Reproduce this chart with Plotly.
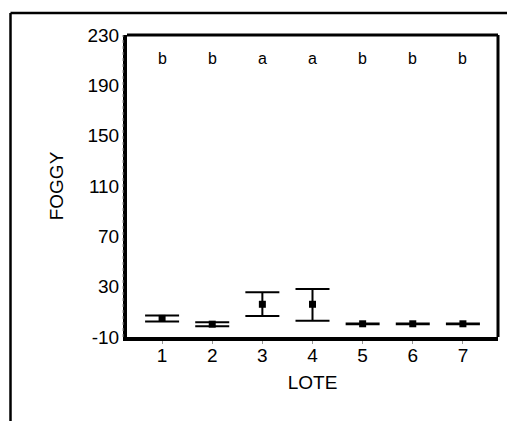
import plotly.graph_objects as go

lote = [1, 2, 3, 4, 5, 6, 7]
means = [4.8, 0.2, 16.0, 16.0, 0.5, 0.5, 0.5]
err_up = [2.3, 1.6, 9.5, 12.1, 0.3, 0.3, 0.3]
err_down = [2.4, 1.6, 9.4, 13.1, 0.3, 0.3, 0.3]
letters = ["b", "b", "a", "a", "b", "b", "b"]
letter_y = 211
y_ticks = [-10, 30, 70, 110, 150, 190, 230]

W, H = 507, 421
ML, MR, MT, MB = 127, 9, 35, 84
pw, ph = W - ML - MR, H - MT - MB

def px_x(x):
    return (x - ML) / pw

def px_y(y):
    return (H - MB - y) / ph

fig = go.Figure()
fig.add_trace(go.Scatter(
    x=lote, y=means, mode="markers",
    marker=dict(symbol="square", size=7, color="black"),
    error_y=dict(type="data", symmetric=False, array=err_up, arrayminus=err_down,
                 color="black", thickness=2, width=17),
    showlegend=False, hoverinfo="skip",
))

for xv, t in zip(lote, letters):
    fig.add_annotation(x=xv, y=letter_y, text=t, showarrow=False,
                       font=dict(family="Arial, Liberation Sans", size=16, color="black"))

shapes = [
    dict(type="line", xref="paper", yref="paper", x0=0, x1=1, y0=1, y1=1,
         line=dict(color="black", width=3)),
    dict(type="line", xref="paper", yref="paper", x0=1, x1=1, y0=0, y1=1,
         line=dict(color="black", width=3)),
    dict(type="line", xref="paper", yref="paper", x0=px_x(123), x1=px_x(123), y0=0, y1=1,
         line=dict(color="#888", width=1, dash="dot")),
    dict(type="line", xref="paper", yref="paper", x0=px_x(10.5), x1=px_x(10.5), y0=px_y(13), y1=px_y(440),
         line=dict(color="black", width=2.5)),
    dict(type="line", xref="paper", yref="paper", x0=px_x(10.5), x1=px_x(520), y0=px_y(13), y1=px_y(13),
         line=dict(color="black", width=2.5)),
]

fig.update_layout(
    width=W, height=H,
    margin=dict(l=ML, r=MR, t=MT, b=MB),
    plot_bgcolor="white", paper_bgcolor="white",
    font=dict(family="Arial, Liberation Sans", size=19, color="black"),
    shapes=shapes,
    xaxis=dict(range=[0.3, 7.7], tickvals=lote, ticktext=[str(v) for v in lote],
               showline=True, linecolor="black", linewidth=4,
               ticks="outside", ticklen=3, tickcolor="#999", tickwidth=1,
               ticklabelstandoff=-5,
               showgrid=False, zeroline=False,
               title=dict(text="LOTE", standoff=12, font=dict(size=19)),
               tickfont=dict(size=19)),
    yaxis=dict(range=[-10, 230], tickvals=y_ticks, ticktext=[str(v) for v in y_ticks],
               showline=True, linecolor="black", linewidth=4,
               ticks="", showgrid=False, zeroline=False,
               title=dict(text="FOGGY", standoff=20, font=dict(size=19)),
               tickfont=dict(size=19)),
)

fig.write_html("out.html", config={"displayModeBar": False},
               post_script="document.body.style.margin='0';document.body.style.overflow='hidden';")
